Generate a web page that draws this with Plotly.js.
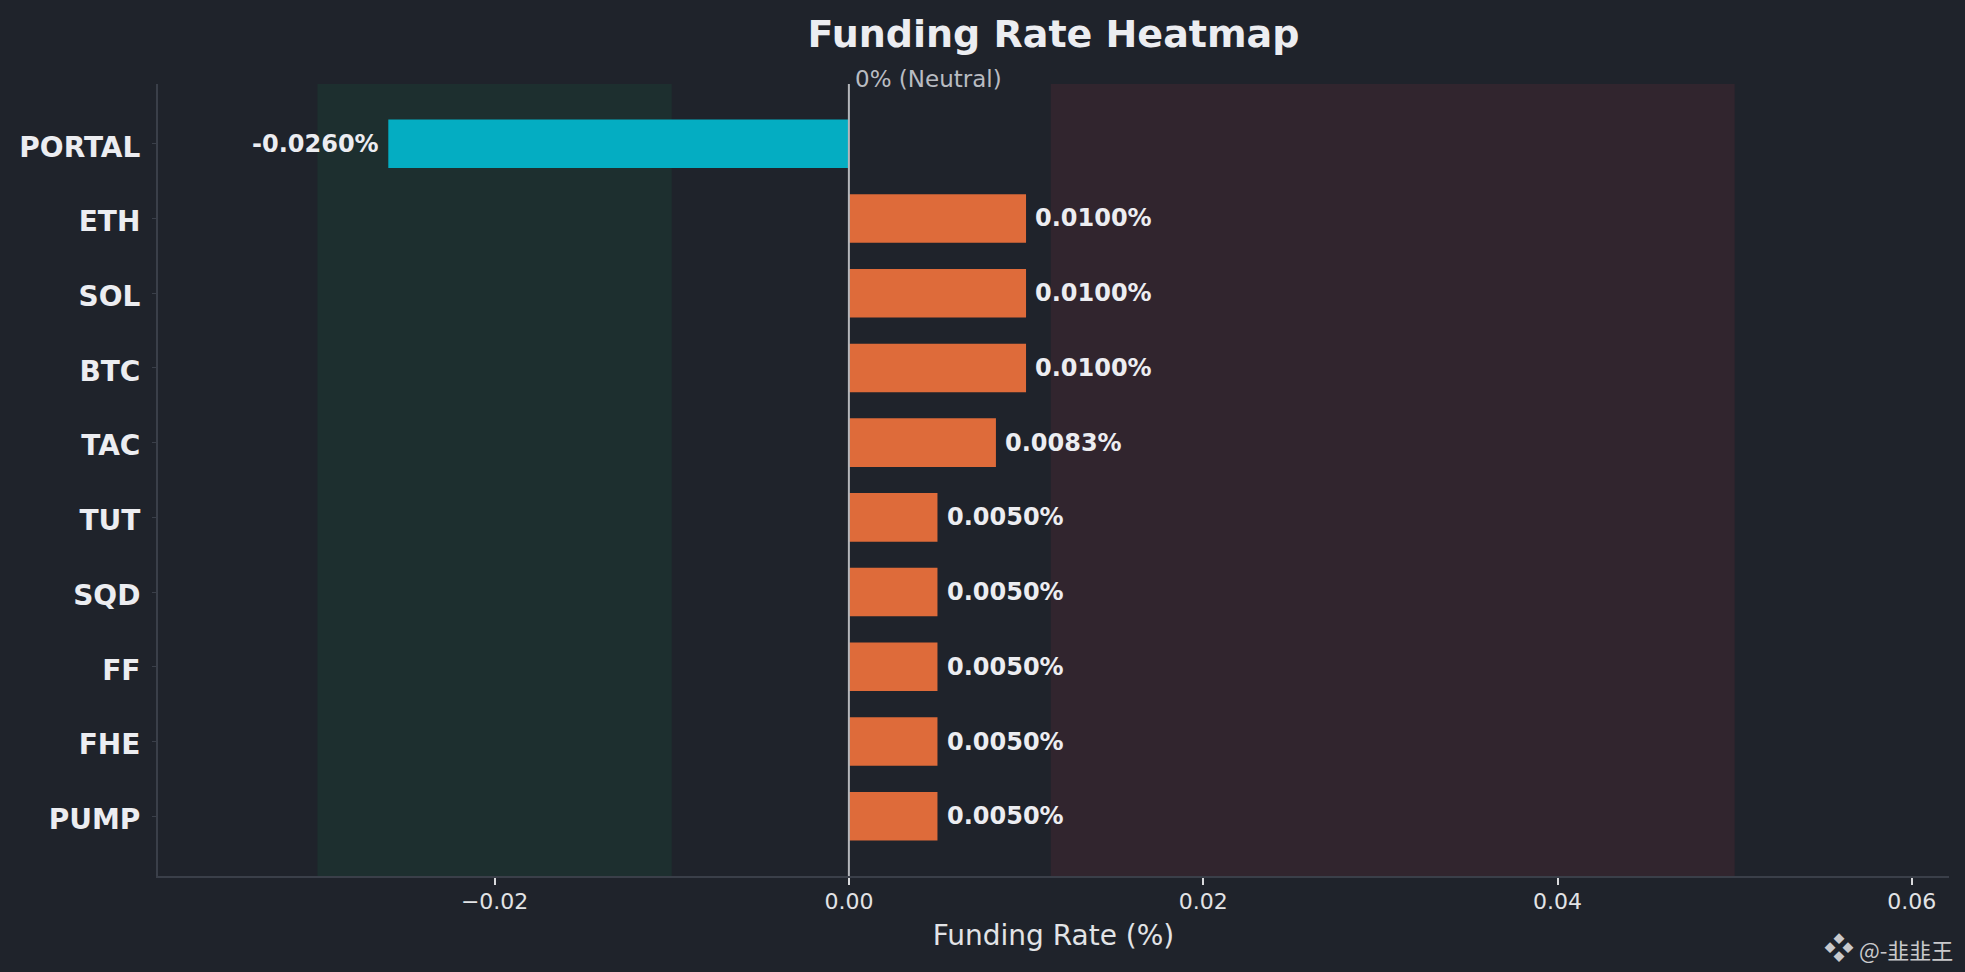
<!DOCTYPE html>
<html>
<head>
<meta charset="utf-8">
<script src="https://cdn.plot.ly/plotly-3.0.1.min.js"></script>
<style>
  html, body { margin: 0; padding: 0; background: #1f232b; }
  #chart { width: 1965px; height: 972px; }
</style>
</head>
<body>
<div id="chart"></div>
<script>
// ---- data ----
const symbols = ["PORTAL", "ETH", "SOL", "BTC", "TAC", "TUT", "SQD", "FF", "FHE", "PUMP"];
const rates = [-0.0260, 0.0100, 0.0100, 0.0100, 0.0083, 0.0050, 0.0050, 0.0050, 0.0050, 0.0050];
const xTicks = [-0.02, 0.00, 0.02, 0.04, 0.06];
const bullZone = [-0.030, -0.010];
const bearZone = [0.0114, 0.050];
const labelOffset = 0.0004;

// ---- styles ----
const BG = "#1f232b";
const NEG = "#04adc2";
const POS = "#de6b3a";
const TXT = "#ecedf1";
const FONT = "DejaVu Sans, sans-serif";

const barColors = rates.map(v => v < 0 ? NEG : POS);
const order = symbols.slice().reverse();

const trace = {
  type: "bar",
  orientation: "h",
  x: rates,
  y: symbols,
  width: 0.65,
  marker: { color: barColors, line: { width: 0 } },
  hoverinfo: "x+y",
  showlegend: false
};

const annotations = rates.map((v, i) => ({
  x: v < 0 ? v - labelOffset : v + labelOffset,
  y: symbols[i],
  xref: "x", yref: "y",
  text: v.toFixed(4) + "%",
  showarrow: false,
  xanchor: v < 0 ? "right" : "left",
  yanchor: "middle",
  font: { family: FONT, size: 24, color: TXT, weight: "bold" }
}));

annotations.push({
  x: 0, y: 1, xref: "x", yref: "paper",
  text: "0% (Neutral)",
  showarrow: false, xanchor: "left", yanchor: "bottom",
  xshift: 4, yshift: -10,
  font: { family: FONT, size: 23, color: "#b9bcc2" }
});

annotations.push({
  x: 1.0034, y: -0.088, xref: "paper", yref: "paper",
  text: "<span style=\"font-size:30px\">❖</span> @-韭韭王",
  showarrow: false, xanchor: "right", yanchor: "middle",
  font: { family: "Noto Sans CJK SC, DejaVu Sans, sans-serif", size: 22, color: "#c9c9cc" }
});

const shapes = [
  { type: "rect", xref: "x", yref: "paper", x0: bullZone[0], x1: bullZone[1], y0: 0, y1: 1,
    fillcolor: "#1d2f2f", line: { width: 0 }, layer: "below" },
  { type: "rect", xref: "x", yref: "paper", x0: bearZone[0], x1: bearZone[1], y0: 0, y1: 1,
    fillcolor: "#31252e", line: { width: 0 }, layer: "below" },
  { type: "line", xref: "x", yref: "paper", x0: 0, x1: 0, y0: 0, y1: 1,
    line: { color: "#b4b6bb", width: 2 }, layer: "above" }
];

const layout = {
  width: 1965, height: 972,
  paper_bgcolor: BG, plot_bgcolor: BG,
  margin: { l: 158, r: 16, t: 84, b: 96 },
  title: {
    text: "Funding Rate Heatmap",
    x: 0.5, xref: "paper", y: 0.965, yref: "container", yanchor: "middle",
    font: { family: FONT, size: 38, color: TXT, weight: "bold" }
  },
  xaxis: {
    range: [-0.0390, 0.0621],
    tickvals: xTicks,
    tickformat: ".2f",
    showgrid: false, zeroline: false,
    showline: true, linecolor: "#3a3f49", linewidth: 2,
    ticks: "outside", ticklen: 7, tickwidth: 1.5, tickcolor: "#d8d9dc",
    ticklabelstandoff: -2,
    tickfont: { family: FONT, size: 22, color: "#e2e3e6" },
    title: { text: "Funding Rate (%)", standoff: 12, font: { family: FONT, size: 28, color: "#e2e3e6" } }
  },
  yaxis: {
    type: "category",
    categoryorder: "array", categoryarray: order,
    range: [-0.8, 9.8],
    showgrid: false, zeroline: false,
    showline: true, linecolor: "#3a3f49", linewidth: 2,
    ticks: "outside", ticklen: 4, tickwidth: 1, tickcolor: "#3a3f49",
    ticklabelstandoff: 6,
    ticklabelshift: 3,
    tickfont: { family: FONT, size: 28, color: TXT, weight: "bold" }
  },
  bargap: 0.35,
  shapes: shapes,
  annotations: annotations
};

Plotly.newPlot("chart", [trace], layout, { displayModeBar: false, responsive: false });
</script>
</body>
</html>
